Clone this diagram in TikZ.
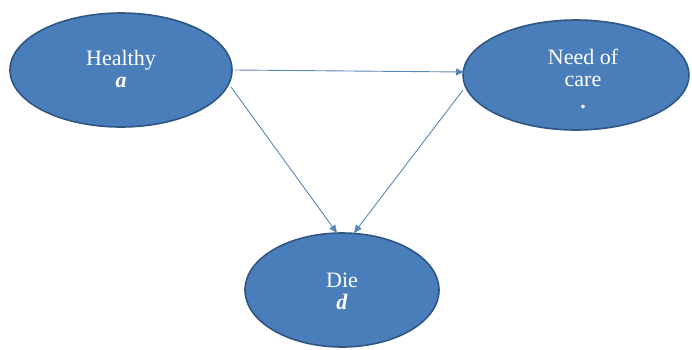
\documentclass[tikz,border=0pt]{standalone}
\usepackage{fontspec}
\setmainfont{Liberation Serif}
\usetikzlibrary{arrows.meta}
\definecolor{stateblue}{HTML}{4A7EBB}
\definecolor{stateedge}{HTML}{2F5683}
\definecolor{linkblue}{HTML}{5A86B8}
\tikzset{
  statefill/.style={fill=stateblue, draw=stateedge, line width=1.6pt},
  label/.style={text=white, font=\fontsize{22}{22}\selectfont, align=center, inner sep=0pt},
  link/.style={draw=linkblue, line width=0.9pt, -{Triangle[length=8pt,width=7pt]}}
}
\begin{document}
\begin{tikzpicture}[x=1pt,y=-1pt]
\useasboundingbox (0,0) rectangle (692,349);
% states
\draw[statefill] (121,70) ellipse [x radius=111, y radius=57];
\draw[statefill] (576,75) ellipse [x radius=113, y radius=55];
\draw[statefill] (342,290) ellipse [x radius=97, y radius=57];
\coordinate (hR) at (235,70);
\coordinate (nL) at (464,72);
\coordinate (hB) at (231,87);
\coordinate (dT1) at (337,233);
\coordinate (nB) at (463,90);
\coordinate (dT2) at (354,233);
% labels
\node[label] (healthy) at (121,69) {Healthy\\\textbf{\textit{a}}};
\node[label] (need) at (583,79) {Need of\\care\\\textbf{.}};
\node[label] (die) at (342,291) {Die\\\textbf{\textit{d}}};
% transitions
\draw[link] (hR) -- (nL);
\draw[link] (hB) -- (dT1);
\draw[link] (nB) -- (dT2);
\end{tikzpicture}
\end{document}
